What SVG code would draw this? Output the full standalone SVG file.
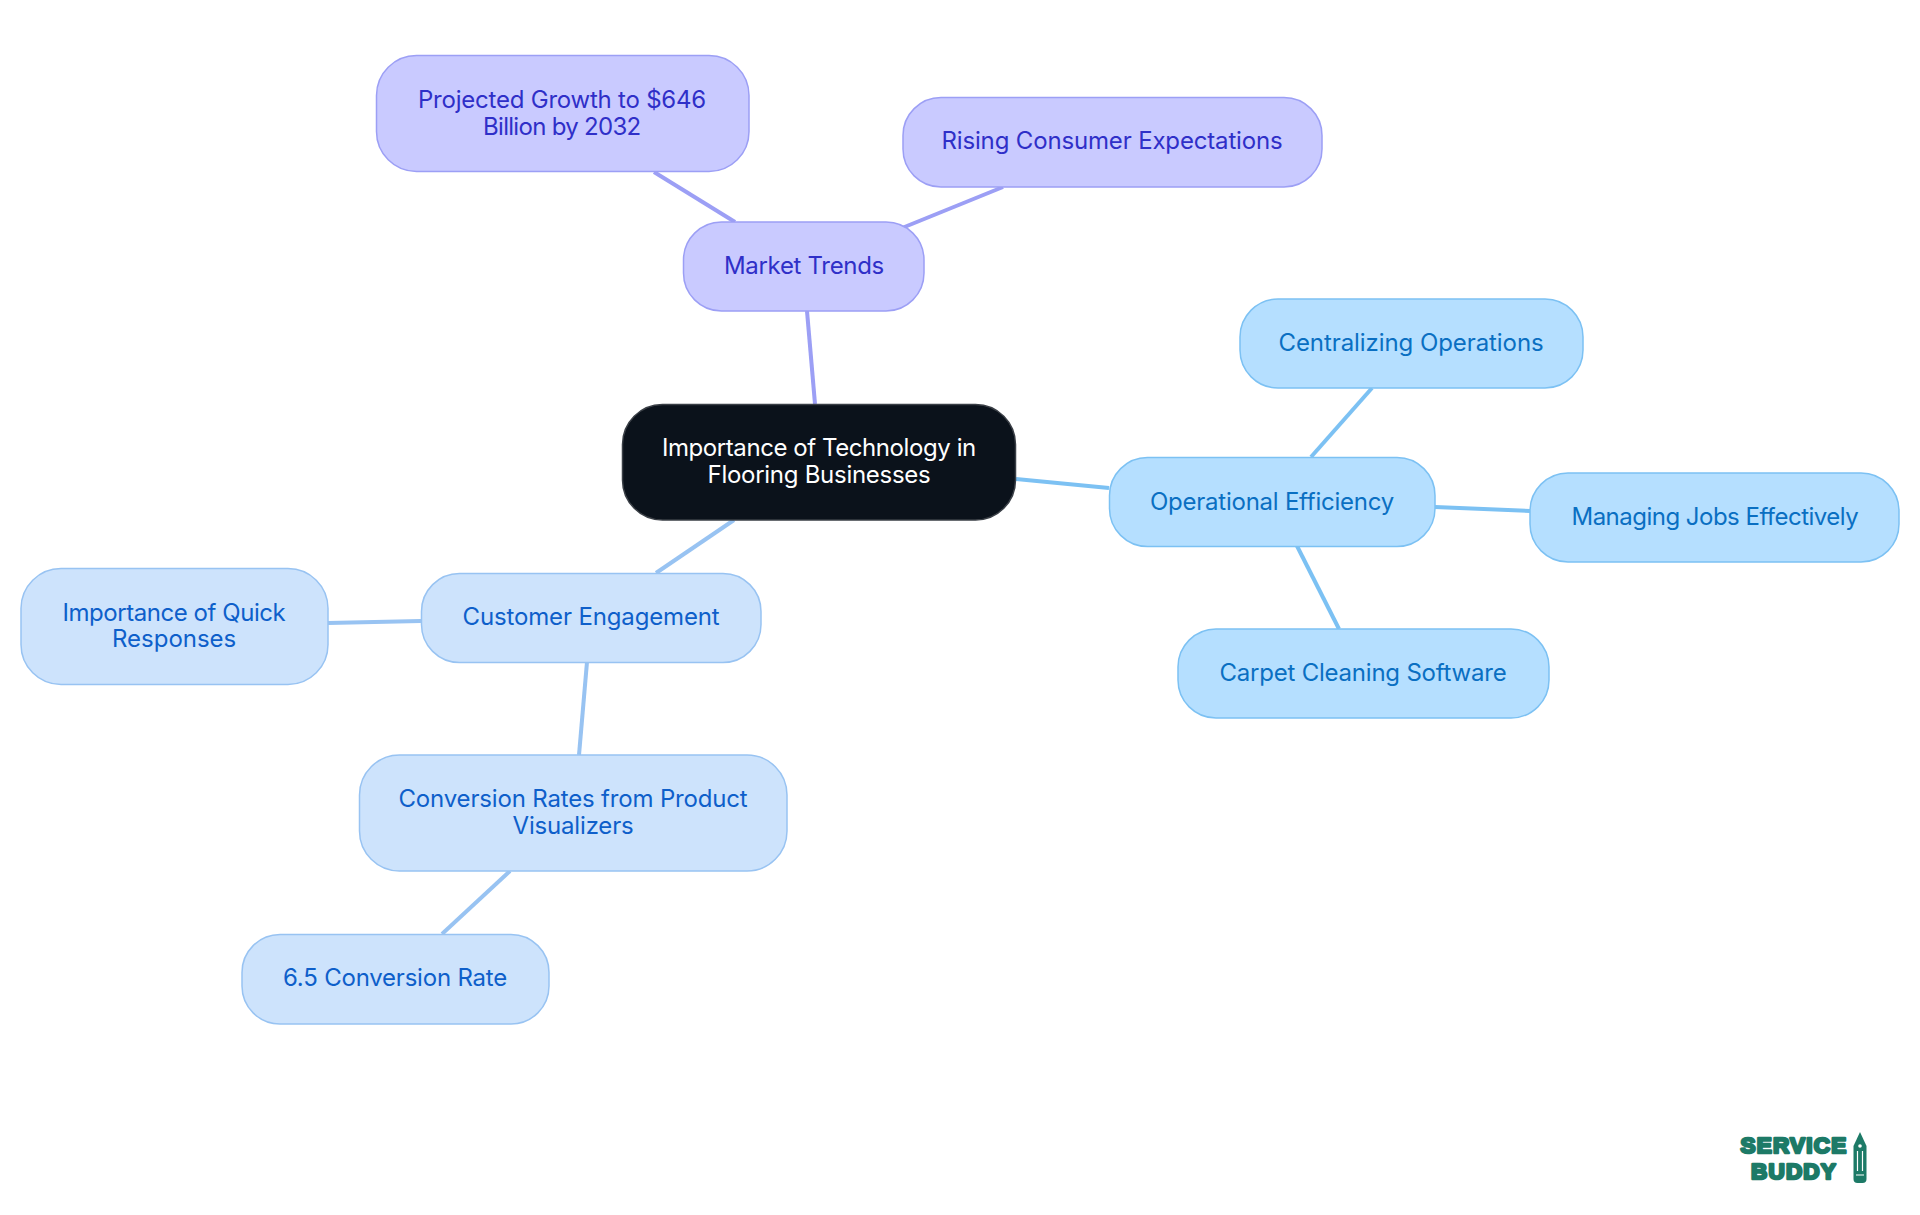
<svg xmlns="http://www.w3.org/2000/svg" width="1920" height="1215" viewBox="0 0 1920 1215">
<style>
.n{stroke-width:1.5}
.t{font-family:"Inter","Noto Sans",sans-serif;font-size:24px;text-anchor:middle;letter-spacing:-.2px}
.p rect{fill:#c9caff;stroke:#9c9ff5}.p text{fill:#2f2fc8}
.s rect{fill:#b5dfff;stroke:#7cc1f3}.s text{fill:#0a6fc2}
.b rect{fill:#cde3fc;stroke:#98c3f2}.b text{fill:#0e5fca}
.r rect{fill:#0b121b;stroke:#3a3f46}.r text{fill:#fff}
#connectors line{stroke-width:4}
.lg{font-family:"Liberation Sans",Arial,sans-serif;font-weight:700;fill:#1d7a67;font-size:22.500px;text-anchor:middle;stroke:#1d7a67;stroke-width:2.600;stroke-linejoin:round;letter-spacing:1.200px}
</style>
<rect width="1920" height="1215" fill="#fff"/>
<g id="connectors">
<line x1="807" y1="311" x2="815" y2="404" stroke="#9c9ff5"/>
<line x1="654" y1="172" x2="735" y2="222" stroke="#9c9ff5"/>
<line x1="1003" y1="187" x2="902" y2="228" stroke="#9c9ff5"/>
<line x1="1016" y1="479" x2="1109" y2="488" stroke="#7cc1f3"/>
<line x1="1372" y1="388" x2="1311" y2="457" stroke="#7cc1f3"/>
<line x1="1435" y1="507" x2="1530" y2="511" stroke="#7cc1f3"/>
<line x1="1297" y1="546" x2="1339" y2="629" stroke="#7cc1f3"/>
<line x1="734" y1="520" x2="656" y2="573" stroke="#98c3f2"/>
<line x1="421" y1="621" x2="328" y2="623" stroke="#98c3f2"/>
<line x1="587" y1="662" x2="579" y2="755" stroke="#98c3f2"/>
<line x1="510" y1="871" x2="442" y2="934" stroke="#98c3f2"/>
</g>
<g id="root" class="r"><rect class="n" x="622.500" y="404.500" width="393" height="115.500" rx="40"/><text class="t" x="819" y="456" textLength="314">Importance of Technology in</text><text class="t" x="819" y="483" textLength="223">Flooring Businesses</text></g>
<g id="market" class="p"><rect class="n" x="683.500" y="222" width="240.500" height="89" rx="38"/><text class="t" x="804" y="274" textLength="160">Market Trends</text></g>
<g id="projected" class="p"><rect class="n" x="376.500" y="55.500" width="372.500" height="116" rx="40"/><text class="t" x="562" y="108" textLength="288">Projected Growth to $646</text><text class="t" x="562" y="135" textLength="158">Billion by 2032</text></g>
<g id="rising" class="p"><rect class="n" x="903" y="97.500" width="419" height="89.500" rx="38"/><text class="t" x="1112" y="149" textLength="341">Rising Consumer Expectations</text></g>
<g id="operational" class="s"><rect class="n" x="1109.500" y="457.500" width="325.500" height="89" rx="38"/><text class="t" x="1272" y="510" textLength="244">Operational Efficiency</text></g>
<g id="centralizing" class="s"><rect class="n" x="1240" y="299" width="343" height="89" rx="38"/><text class="t" x="1411" y="351" textLength="265">Centralizing Operations</text></g>
<g id="managing" class="s"><rect class="n" x="1530" y="473" width="369" height="89" rx="38"/><text class="t" x="1715" y="525" textLength="287">Managing Jobs Effectively</text></g>
<g id="carpet" class="s"><rect class="n" x="1178" y="629" width="371" height="89" rx="38"/><text class="t" x="1363" y="681" textLength="287">Carpet Cleaning Software</text></g>
<g id="customer" class="b"><rect class="n" x="421.500" y="573.500" width="339.500" height="89" rx="38"/><text class="t" x="591" y="625" textLength="257">Customer Engagement</text></g>
<g id="quick" class="b"><rect class="n" x="21" y="568.500" width="307" height="116" rx="40"/><text class="t" x="174" y="621" textLength="223">Importance of Quick</text><text class="t" x="174" y="647" textLength="124">Responses</text></g>
<g id="conversion" class="b"><rect class="n" x="359.500" y="755" width="427.500" height="116" rx="40"/><text class="t" x="573" y="807" textLength="349">Conversion Rates from Product</text><text class="t" x="573" y="834" textLength="121">Visualizers</text></g>
<g id="rate" class="b"><rect class="n" x="242" y="934.500" width="307" height="89.500" rx="38"/><text class="t" x="395" y="986" textLength="224">6.5 Conversion Rate</text></g>
<g id="logo">
<text class="lg" x="1794" y="1152.500">SERVICE</text>
<text class="lg" x="1794" y="1178.500">BUDDY</text>
<path d="M1853.500 1146l6.500-14 6.500 14v33q0 4-4 4h-5q-4 0-4-4z" fill="#1d7a67"/>
<circle cx="1860" cy="1146" r="1.800" fill="#fff"/>
<path d="M1857.500 1151v20M1862.500 1151v20M1856 1175h8" stroke="#fff" stroke-width="1.200" fill="none"/>
</g>
</svg>
